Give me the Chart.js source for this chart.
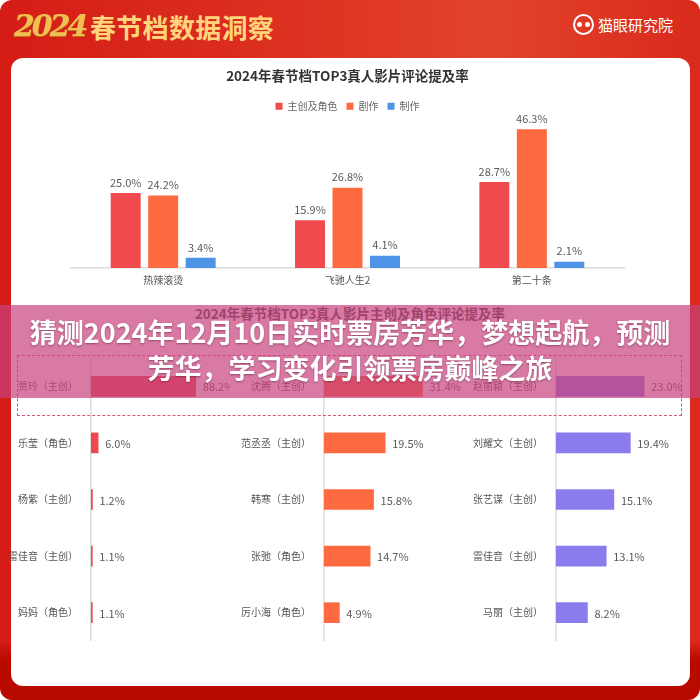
<!DOCTYPE html>
<html>
<head>
<meta charset="utf-8">
<script src="https://cdn.jsdelivr.net/npm/chart.js@4"></script>
<style>
    html, body { margin: 0; padding: 0; background: #fff; }
    body { width: 700px; height: 700px; position: relative; overflow: hidden; font-family: "Noto Sans CJK SC", "Noto Sans", sans-serif; }
    .poster { position: absolute; left: 0; top: 0; width: 700px; height: 700px; border-radius: 12px;
        background: linear-gradient(180deg, rgba(0,0,0,0) 0, rgba(0,0,0,0) 640px, #b90a00 660px),
                    linear-gradient(90deg, #d51c16 0, #dd3322 45%, #e2432c 70%, #d92a1c 100%); }
    .panel { position: absolute; left: 11px; top: 58px; width: 679px; height: 628px; background: #fff; border-radius: 12px; }
    .logo { position: absolute; left: 14px; top: 8px; font: italic bold 30px "DejaVu Serif", serif; color: #f2bf52; letter-spacing: -3px; text-shadow: 0 1px 0 #b8741a; }
    .brand { position: absolute; left: 90px; top: 8px; font-size: 26px; font-weight: bold; color: #ffd47a; letter-spacing: 0.3px; }
    .org { position: absolute; left: 573px; top: 14px; font-size: 15px; color: #fff; display: flex; align-items: center; gap: 4px; }
    .owl { width: 17px; height: 17px; border: 2px solid #fff; border-radius: 50%; position: relative; }
    .owl::before, .owl::after { content: ''; position: absolute; top: 6px; width: 5px; height: 5px; background: #fff; border-radius: 50%; }
    .owl::before { left: 2px; } .owl::after { right: 2px; }
    canvas { position: absolute; }
    .subtitle { position: absolute; left: 0; width: 700px; top: 303px; text-align: center; font-size: 13.5px; font-weight: bold; color: #444; }
    .focus { position: absolute; left: 17px; top: 355px; width: 663px; height: 59px; border: 1px dashed #e0566b; }
    .banner { position: absolute; left: 0; top: 305px; width: 700px; height: 93px; background: rgba(200, 65, 126, 0.7);
        color: #fff; font-weight: bold; font-size: 27px; line-height: 36px; text-align: center; padding-top: 9px; box-sizing: border-box;
        text-shadow: 0 1px 2px rgba(90, 20, 50, 0.5); }
</style>
</head>
<body>
<div class="poster"></div>
<div class="logo">2024</div>
<div class="brand">春节档数据洞察</div>
<div class="org"><span class="owl"></span>猫眼研究院</div>
<div class="panel"></div>

<canvas id="overview" width="580" height="236" style="left:60px; top:60px;"></canvas>
<div class="subtitle">2024年春节档TOP3真人影片主创及角色评论提及率</div>
<canvas id="hot" width="230" height="283" style="left:0px; top:358px;"></canvas>
<canvas id="pegasus" width="232" height="283" style="left:230px; top:358px;"></canvas>
<canvas id="article20" width="232" height="283" style="left:462px; top:358px;"></canvas>
<div class="focus"></div>

<div class="banner">猜测2024年12月10日实时票房芳华，梦想起航，预测<br>芳华，学习变化引领票房巅峰之旅</div>

<script>
const FONT = '"Noto Sans CJK SC", "Noto Sans", sans-serif';

// overview: comment mention rate by topic
const films = ['热辣滚烫', '飞驰人生2', '第二十条'];
const seriesNames = ['主创及角色', '剧作', '制作'];
const castShare = [25.0, 15.9, 28.7];
const plotShare = [24.2, 26.8, 46.3];
const productionShare = [3.4, 4.1, 2.1];

// per film: cast / character mention rate
const hotNames = ['贾玲（主创）', '乐莹（角色）', '杨紫（主创）', '雷佳音（主创）', '妈妈（角色）'];
const hotValues = [88.2, 6.0, 1.2, 1.1, 1.1];
const pegasusNames = ['沈腾（主创）', '范丞丞（主创）', '韩寒（主创）', '张弛（角色）', '厉小海（角色）'];
const pegasusValues = [31.4, 19.5, 15.8, 14.7, 4.9];
const article20Names = ['赵丽颖（主创）', '刘耀文（主创）', '张艺谋（主创）', '雷佳音（主创）', '马丽（主创）'];
const article20Values = [23.0, 19.4, 15.1, 13.1, 8.2];

// value text next to each bar
const valueLabels = {
    id: 'valueLabels',
    afterDatasetsDraw(chart) {
        const ctx = chart.ctx;
        ctx.save();
        ctx.font = `11px ${FONT}`;
        ctx.fillStyle = '#5a5a5a';
        chart.data.datasets.forEach((ds, i) => {
            chart.getDatasetMeta(i).data.forEach((bar, j) => {
                const text = ds.data[j].toFixed(1) + '%';
                if (chart.options.indexAxis === 'y') {
                    ctx.textAlign = 'left';
                    ctx.textBaseline = 'middle';
                    ctx.fillText(text, bar.x + 7, bar.y + 1);
                } else {
                    ctx.textAlign = 'center';
                    ctx.textBaseline = 'bottom';
                    ctx.fillText(text, bar.x, bar.y - 5);
                }
            });
        });
        ctx.restore();
    }
};

new Chart(document.getElementById('overview'), {
    type: 'bar',
    data: {
        labels: films,
        datasets: [
            { label: seriesNames[0], data: castShare, backgroundColor: '#f04a4e' },
            { label: seriesNames[1], data: plotShare, backgroundColor: '#fd6a3f' },
            { label: seriesNames[2], data: productionShare, backgroundColor: '#4e94e6' }
        ]
    },
    options: {
        responsive: false,
        animation: false,
        categoryPercentage: 0.61,
        barPercentage: 0.8,
        layout: { padding: { left: 11, right: 16, top: 0, bottom: 4 } },
        plugins: {
            title: {
                display: true,
                text: '2024年春节档TOP3真人影片评论提及率',
                color: '#333',
                font: { family: FONT, size: 13.5, weight: 'bold' },
                padding: { top: 8, bottom: 8 }
            },
            legend: {
                display: true,
                labels: { color: '#666', boxWidth: 7, boxHeight: 7, padding: 9, font: { family: FONT, size: 10 } }
            },
            tooltip: { enabled: false }
        },
        scales: {
            x: {
                grid: { display: true, drawOnChartArea: false, drawTicks: false },
                border: { display: true, color: '#dcdcdc', width: 1.5 },
                ticks: { color: '#555', padding: 6, font: { family: FONT, size: 10 } }
            },
            y: { display: false, min: 0, max: 49 }
        }
    },
    plugins: [valueLabels]
});

function castChart(id, names, values, color, axisWidth, maxValue) {
    new Chart(document.getElementById(id), {
        type: 'bar',
        data: {
            labels: names,
            datasets: [{ data: values, backgroundColor: color, barThickness: 20 }]
        },
        options: {
            indexAxis: 'y',
            responsive: false,
            animation: false,
            layout: { padding: 0 },
            plugins: { legend: { display: false }, tooltip: { enabled: false } },
            scales: {
                x: { display: false, min: 0, max: maxValue },
                y: {
                    // fixed label column; rows use the full canvas height
                    afterFit: scale => {
                        scale.width = axisWidth;
                        scale.paddingTop = 0;
                        scale.paddingBottom = 0;
                    },
                    grid: { display: true, drawOnChartArea: false, drawTicks: false },
                    border: { display: true, color: '#dcdcdc', width: 1.5 },
                    ticks: { color: '#555', padding: 13, font: { family: FONT, size: 10 } }
                }
            }
        },
        plugins: [valueLabels]
    });
}

castChart('hot', hotNames, hotValues, '#ef474d', 91, 117);
castChart('pegasus', pegasusNames, pegasusValues, '#fd6a3f', 94, 44);
castChart('article20', article20Names, article20Values, '#8a7cec', 94, 36);
</script>
</body>
</html>
